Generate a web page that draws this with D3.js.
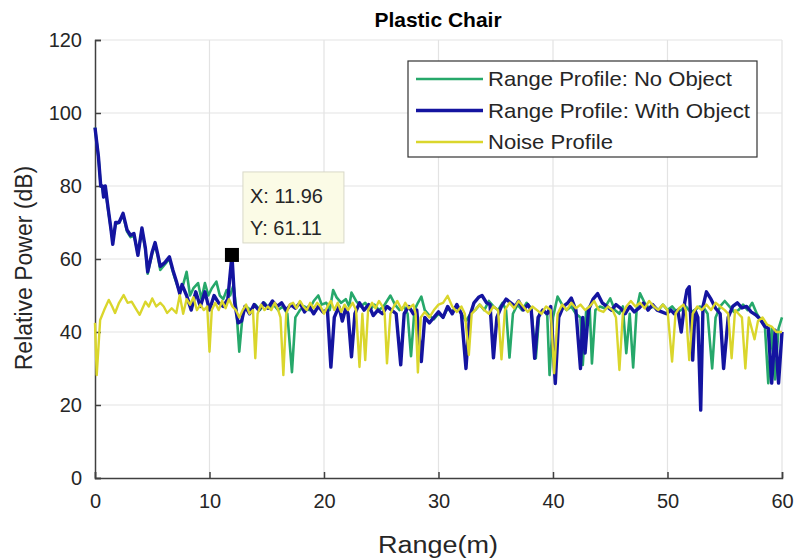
<!DOCTYPE html>
<html><head><meta charset="utf-8">
<script src="https://cdn.jsdelivr.net/npm/d3@7"></script>
<style>body{margin:0;background:#fff;}svg{display:block;font-family:"Liberation Sans",Arial,sans-serif;}</style>
</head><body><svg id="c" width="795" height="560"></svg>
<script>
// ---- data (range in m, relative power in dB) ----
const xTicks = [0,10,20,30,40,50,60];
const yTicks = [0,20,40,60,80,100,120];
const seriesNames = ["Range Profile: No Object","Range Profile: With Object","Noise Profile"];

const noObjRange = [0,0.3,0.5,0.65,0.75,0.9,1.1,1.4,1.55,1.8,2.1,2.45,2.8,3.1,3.4,3.75,4.1,4.4,4.6,5.0,5.25,5.5,5.7,6.1,6.5,6.8,7.1,7.4,7.7,8.0,8.3,8.6,9.0,9.3,9.6,9.9,10.2,10.6,10.9,11.2,11.5,11.8,12.1,12.35,12.6,12.9,13.2,13.6,14.0,14.4,14.8,15.2,15.6,16.0,16.4,16.8,17.2,17.5,17.9,18.3,18.7,19.1,19.5,19.8,20.2,20.5,20.8,21.1,21.5,21.9,22.2,22.4,22.8,23.2,23.6,24.0,24.4,24.8,25.2,25.5,25.8,26.2,26.6,27.0,27.3,27.6,27.9,28.2,28.5,28.8,29.2,29.6,30.0,30.4,30.8,31.2,31.6,32.0,32.4,32.8,33.2,33.6,34.0,34.4,34.8,35.2,35.6,35.9,36.2,36.5,36.9,37.3,37.7,38.1,38.5,38.8,39.2,39.5,39.7,40.0,40.4,40.8,41.2,41.6,42.0,42.4,42.6,42.9,43.2,43.4,43.7,44.1,44.5,45.0,45.4,45.8,46.1,46.4,46.7,47.0,47.3,47.6,48.0,48.4,48.8,49.2,49.6,50.0,50.4,50.8,51.2,51.6,52.0,52.4,52.8,53.2,53.5,53.9,54.2,54.6,55.0,55.4,55.8,56.2,56.6,57.0,57.4,57.8,58.2,58.5,58.8,59.1,59.4,59.7,60];
const noObjPower = [96,88,80,79.5,77,79.5,74.5,68,65,69.5,70,72,67.5,66,66.5,61.5,68,62.5,56,61.5,64,60.5,57,58.5,60,56.5,53.5,51,53,56.5,50,52,53.4,49,53.4,50,52,53.8,50,49,51.5,50,52.9,46,34.6,45,47,46,47.5,46,48,46.5,47.5,46,47,45,29,44,46,47,46,48.5,50,47.5,48,46,51.5,49.5,48,49,47,50.8,48.5,47,48,46,47.5,46,47,48.5,50,47.5,46,47,45,33.4,46,48,49.7,46,44.5,43.5,45,44,46.5,45.5,47,45,43,45,46,47.5,46,48.5,47,46,48,46,33,45,47.5,46,48,46.5,32.8,45,46,44.5,28.2,44,49.7,47.5,46,47,45,44,31,46,47,31.4,46,47,46.5,49.2,46,45,47,34.2,45,30.3,46,50.6,48,46.5,47,46,47.5,46,47,45.5,46,47,45.5,46,47,46.5,45,30,44,47,48.5,47,45.5,46,47.5,46,48,45,43,42,26,41,27,41,44];

const withObjRange = [0,0.3,0.5,0.65,0.75,0.9,1.1,1.4,1.55,1.8,2.1,2.45,2.8,3.1,3.4,3.75,4.1,4.4,4.6,5.0,5.25,5.5,5.7,6.1,6.5,6.8,7.1,7.4,7.6,8.0,8.4,8.8,9.2,9.6,10.0,10.4,10.8,11.2,11.6,11.96,12.2,12.5,12.8,13.1,13.5,13.9,14.3,14.7,15.1,15.5,15.9,16.3,16.7,17.1,17.5,17.9,18.3,18.7,19.1,19.5,19.9,20.3,20.6,20.9,21.3,21.6,21.9,22.1,22.4,22.7,23.1,23.5,23.9,24.3,24.7,25.1,25.5,25.9,26.3,26.7,27.0,27.4,27.8,28.1,28.5,28.8,29.2,29.6,30.0,30.4,30.8,31.2,31.6,32.0,32.4,32.7,33.1,33.5,33.8,34.2,34.5,34.8,35.1,35.5,35.9,36.3,36.7,37.0,37.4,37.8,38.1,38.4,38.7,39.1,39.5,39.8,40.2,40.5,40.9,41.3,41.6,42.0,42.4,42.6,42.8,43.1,43.5,43.9,44.3,44.7,45.1,45.5,45.9,46.3,46.7,47.1,47.5,47.9,48.3,48.7,49.1,49.5,49.9,50.3,50.6,50.9,51.2,51.5,51.7,51.9,52.2,52.4,52.65,52.9,53.1,53.4,53.8,54.2,54.6,54.9,55.3,55.7,56.1,56.5,56.9,57.3,57.7,58.1,58.5,58.8,59.1,59.4,59.7,60];
const withObjPower = [96,88,80,80,77,80,75,68,64,70,70,72.5,68,66.5,67,61,68.5,63,56.5,62,64.5,61,58,59,60.6,57,54,50.5,53,50,46,51,47,51,46,50,48,47,49,61.1,48,42.5,43,47,45,47.5,46,48,46.5,48.5,47,48,46,47.5,46.5,48,45.5,47,45,47,45.5,46,30.4,44,47,43,46.5,45,33.2,45,48,46,47.5,44.5,46,45,47,46,45,31,45,47,45,46,31.9,44,42.5,44,45.5,44,47,45,47.5,45,30,44,48,49.5,50,48,47.5,32.9,44,47,49,48,47,48.5,46,47.5,46,32.8,44,46,45,47,25.9,44,47,48,49.3,46,30,44,34.2,46,49,50.5,48,47,46,47.5,46.5,45,47,45.5,46.5,47.9,46,47.5,46,45.5,45,46,45,46,40,48,51.5,52.4,32.3,46,44,18.6,47,51,49,46.5,45,30,44,47,48,46.6,47,45.5,44.7,43.5,41.5,41,26,40.5,26,40,40];

const noiseRange = [0,0.15,0.45,0.8,1.2,1.5,1.75,2.1,2.5,2.85,3.2,3.55,3.9,4.4,4.7,5.0,5.35,5.7,6.0,6.3,6.7,7.1,7.4,7.7,8.0,8.3,8.6,8.9,9.2,9.5,9.8,10.0,10.2,10.5,10.8,11.1,11.4,11.7,12.0,12.3,12.6,12.9,13.2,13.5,13.8,14.0,14.2,14.5,14.8,15.1,15.4,15.7,16.0,16.2,16.45,16.7,17.0,17.3,17.6,17.9,18.2,18.5,18.8,19.1,19.4,19.7,20.0,20.3,20.6,20.9,21.2,21.5,21.8,22.1,22.5,22.8,23.1,23.35,23.6,23.85,24.2,24.5,24.8,25.1,25.3,25.5,25.8,26.1,26.4,26.8,27.1,27.4,27.8,28.0,28.2,28.45,28.8,29.2,29.6,30.0,30.4,30.8,31.2,31.6,32.0,32.3,32.65,32.9,33.2,33.6,34.0,34.4,34.8,35.2,35.5,35.8,36.2,36.6,37.0,37.4,37.8,38.2,38.6,39.0,39.4,39.8,40.1,40.4,40.8,41.2,41.6,42.0,42.4,42.8,43.2,43.6,44.0,44.4,44.8,45.2,45.5,45.8,46.1,46.4,46.8,47.2,47.6,48.0,48.4,48.8,49.2,49.6,50.0,50.4,50.7,51.0,51.4,51.6,51.9,52.2,52.6,53.0,53.4,53.8,54.2,54.6,55.0,55.3,55.6,55.9,56.2,56.5,56.8,57.1,57.6,57.9,58.3,58.7,59.1,59.5,60];
const noisePower = [42.5,28.2,43.3,46,48.8,47,45.2,48,50.1,48,48.3,46.5,44.7,48.3,47,49.2,47,48,47,45.2,46.5,45.2,50.1,45,49,47.5,49.5,46,47.5,46,47,34.6,46,48,46,48.5,46.5,49,47,46,44,46,47.5,45,46,32.8,45,47.5,46,47,46,48,46,44,28.2,45,47.5,48,46.5,48.5,47,46,48,46.5,48,47,45,47,48.5,46,48,45.5,47.5,46,48,46,30.4,45,32.3,46,48,46.5,48.5,47,45,31.4,45,47,48.5,46,48,46.5,47.5,45,28.9,44,45.5,44,46,47.5,48,49.9,47,45.5,47,45,33.7,45,46,47.5,46,45,47,46,32.5,46,48,46.5,48.5,47,45.5,47,46,45,47,46,28.7,45,47.5,46,48,46.5,47.5,46,47,48.5,46,45.5,47,46,44,29.6,45,47,48.5,47,48,46.5,48.5,47,46,47.5,46,31.9,45,46.5,47.5,46,32.3,45,47,46,47.5,46,48,47,46,45,32.8,46,45,44,30,44,38,43,44,42,41.5,40,40];

const tipX = 11.96, tipY = 61.11;

// ---- layout ----
const svg = d3.select("#c");
const m = {l:95, r:782, t:40, b:478};
const x = d3.scaleLinear().domain([0,60]).range([m.l, m.r]);
const y = d3.scaleLinear().domain([0,120]).range([m.b, m.t]);
const colors = ["#26a86a","#1414a0","#dad62c"];
const widths = [2.6, 3.4, 2.4];
const txt = "#262626";

// grid
svg.append("g").selectAll("line.gx").data(xTicks.filter(d=>d>0)).join("line")
  .attr("x1",d=>x(d)).attr("x2",d=>x(d)).attr("y1",m.t).attr("y2",m.b)
  .attr("stroke","#e3e3e3").attr("stroke-width",1.2);
svg.append("g").selectAll("line.gy").data(yTicks.filter(d=>d>0)).join("line")
  .attr("x1",m.l).attr("x2",m.r).attr("y1",d=>y(d)).attr("y2",d=>y(d))
  .attr("stroke","#e3e3e3").attr("stroke-width",1.2);

// axes (ticks inward)
const xAxis = d3.axisBottom(x).tickValues(xTicks).tickSize(-6).tickPadding(16);
const yAxis = d3.axisLeft(y).tickValues(yTicks).tickSize(-6).tickPadding(13);
const gx = svg.append("g").attr("transform",`translate(0,${m.b})`).call(xAxis);
const gy = svg.append("g").attr("transform",`translate(${m.l},0)`).call(yAxis);
[gx,gy].forEach(g=>{
  g.select(".domain").attr("stroke","#404040").attr("stroke-width",1.5);
  g.selectAll(".tick line").attr("stroke","#404040").attr("stroke-width",1.5);
  g.selectAll(".tick text").attr("fill",txt).style("font-size","20px").style("font-family","'Liberation Sans',Arial,sans-serif");
});

// lines
const line = d3.line().x(d=>x(d[0])).y(d=>y(d[1]));
const series = [
  d3.zip(noObjRange, noObjPower),
  d3.zip(withObjRange, withObjPower),
  d3.zip(noiseRange, noisePower)
];
series.forEach((s,i)=>{
  svg.append("path").datum(s).attr("d",line).attr("fill","none")
    .attr("stroke",colors[i]).attr("stroke-width",widths[i]).attr("stroke-linejoin","round");
});

// data tip marker
svg.append("rect").attr("x",x(tipX)-7).attr("y",y(tipY)-7).attr("width",14).attr("height",14).attr("fill","#000");
const tip = svg.append("g");
tip.append("rect").attr("x",x(tipX)+11).attr("y",y(tipY)-83).attr("width",101).attr("height",71)
  .attr("fill","#fbfbe6").attr("stroke","#d8d8c8");
tip.append("text").attr("x",x(tipX)+18).attr("y",y(tipY)-52).text("X: " + tipX.toFixed(2))
  .attr("fill",txt).style("font-size","20px");
tip.append("text").attr("x",x(tipX)+18).attr("y",y(tipY)-20).text("Y: " + tipY.toFixed(2))
  .attr("fill",txt).style("font-size","20px");

// legend
const lg = svg.append("g");
lg.append("rect").attr("x",408).attr("y",61).attr("width",349).attr("height",96)
  .attr("fill","#fff").attr("stroke","#333").attr("stroke-width",1.2);
seriesNames.forEach((n,i)=>{
  const yy = 79 + i*31.5;
  lg.append("line").attr("x1",416).attr("x2",483).attr("y1",yy).attr("y2",yy)
    .attr("stroke",colors[i]).attr("stroke-width",widths[i]);
  lg.append("text").attr("x",488).attr("y",yy+7).text(n).attr("fill",txt)
    .style("font-size","21px").attr("textLength", [244,262,125][i]).attr("lengthAdjust","spacingAndGlyphs");
});

// title and labels
svg.append("text").attr("x",438).attr("y",27).attr("text-anchor","middle")
  .style("font-size","21px").style("font-weight","bold").attr("fill","#000").text("Plastic Chair");
svg.append("text").attr("x",438).attr("y",553).attr("text-anchor","middle")
  .style("font-size","23px").attr("fill",txt).attr("textLength",120).attr("lengthAdjust","spacingAndGlyphs").text("Range(m)");
svg.append("text").attr("transform","translate(32,268) rotate(-90)").attr("text-anchor","middle")
  .style("font-size","23px").attr("fill",txt).text("Relative Power (dB)");
</script></body></html>
